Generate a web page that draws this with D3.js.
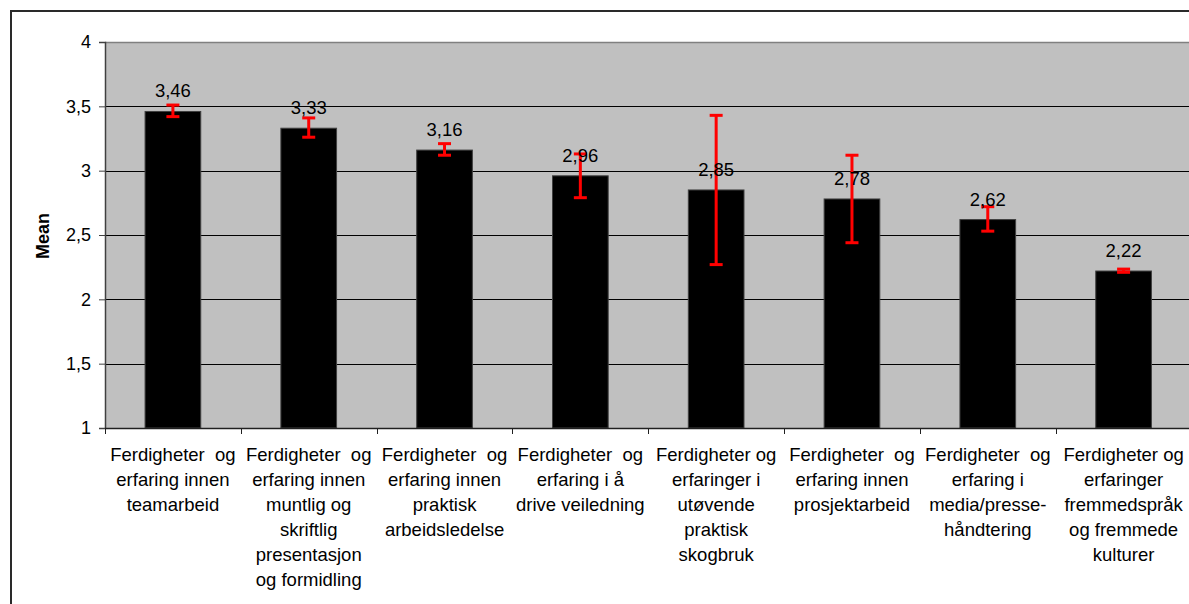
<!DOCTYPE html>
<html>
<head>
<meta charset="utf-8">
<script src="https://cdn.jsdelivr.net/npm/d3@7"></script>
<style>
  html, body { margin: 0; padding: 0; background: #fff; }
  svg { display: block; font-family: "Liberation Sans", Arial, sans-serif; }
  text { white-space: pre; }
</style>
</head>
<body>
<svg id="chart" width="1189" height="604"></svg>
<script>
// ---- data ----
const categories = [
  "Ferdigheter  og\nerfaring innen\nteamarbeid",
  "Ferdigheter  og\nerfaring innen\nmuntlig og\nskriftlig\npresentasjon\nog formidling",
  "Ferdigheter  og\nerfaring innen\npraktisk\narbeidsledelse",
  "Ferdigheter  og\nerfaring i å\ndrive veiledning",
  "Ferdigheter og\nerfaringer i\nutøvende\npraktisk\nskogbruk",
  "Ferdigheter  og\nerfaring innen\nprosjektarbeid",
  "Ferdigheter  og\nerfaring i\nmedia/presse-\nhåndtering",
  "Ferdigheter og\nerfaringer\nfremmedspråk\nog fremmede\nkulturer"
];
const meanValues = [3.46, 3.33, 3.16, 2.96, 2.85, 2.78, 2.62, 2.22];
const valueLabels = ["3,46", "3,33", "3,16", "2,96", "2,85", "2,78", "2,62", "2,22"];
const errLow  = [3.42, 3.26, 3.12, 2.79, 2.27, 2.44, 2.53, 2.21];
const errHigh = [3.51, 3.41, 3.21, 3.13, 3.43, 3.12, 2.72, 2.235];
const yTicks = [1, 1.5, 2, 2.5, 3, 3.5, 4];
const yTickLabels = ["1", "1,5", "2", "2,5", "3", "3,5", "4"];
const yTitle = "Mean";

// ---- layout ----
const svg = d3.select("#chart");
const plotLeft = 105, plotTop = 42, plotBottom = 428, plotRight = 1191.5;

// outer border
svg.append("rect")
  .attr("x", 11).attr("y", 11).attr("width", 1200).attr("height", 620)
  .attr("fill", "#fff").attr("stroke", "#2a2a2a").attr("stroke-width", 2);

const x = d3.scaleBand().domain(categories).range([plotLeft, plotRight]).padding(0);
const y = d3.scaleLinear().domain([1, 4]).range([plotBottom, plotTop]);

// plot background
svg.append("rect")
  .attr("x", plotLeft).attr("y", plotTop)
  .attr("width", plotRight - plotLeft).attr("height", plotBottom - plotTop)
  .attr("fill", "#c0c0c0");

// gridlines
svg.append("g").selectAll("line")
  .data(yTicks.filter(t => t > 1 && t < 4))
  .join("line")
  .attr("x1", plotLeft).attr("x2", plotRight)
  .attr("y1", d => Math.round(y(d)) + 0.5).attr("y2", d => Math.round(y(d)) + 0.5)
  .attr("stroke", "#000").attr("stroke-width", 1);

// top border of plot
svg.append("line")
  .attr("x1", plotLeft).attr("x2", plotRight)
  .attr("y1", plotTop + 0.5).attr("y2", plotTop + 0.5)
  .attr("stroke", "#808080").attr("stroke-width", 1.5);

// bars
const barW = x.bandwidth() * 0.41;
svg.append("g").selectAll("rect")
  .data(categories)
  .join("rect")
  .attr("x", (d) => x(d) + x.bandwidth() / 2 - barW / 2)
  .attr("y", (d, i) => y(meanValues[i]))
  .attr("width", barW)
  .attr("height", (d, i) => y(1) - y(meanValues[i]))
  .attr("fill", "#000").attr("stroke", "#404040").attr("stroke-width", 1);

// y axis
const yAxis = d3.axisLeft(y)
  .tickValues(yTicks)
  .tickFormat((d, i) => yTickLabels[i])
  .tickSize(6).tickPadding(8);
const gy = svg.append("g").attr("transform", `translate(${plotLeft},0)`).call(yAxis);
gy.select(".domain").attr("stroke", "#404040").attr("stroke-width", 1.5);
gy.selectAll(".tick line").attr("stroke", "#404040");
gy.selectAll(".tick text")
  .attr("font-size", 18).attr("fill", "#000")
  .attr("font-family", "Liberation Sans, Arial, sans-serif")
  .attr("dy", "0.32em");

// x axis
const gx = svg.append("g").attr("transform", `translate(0,${plotBottom})`);
gx.append("line")
  .attr("x1", plotLeft).attr("x2", plotRight)
  .attr("y1", 0.5).attr("y2", 0.5)
  .attr("stroke", "#202020").attr("stroke-width", 1.5);
const xTicksPos = categories.map(c => x(c)).concat([plotRight]);
gx.selectAll("line.tk")
  .data(xTicksPos)
  .join("line").attr("class", "tk")
  .attr("x1", d => Math.round(d) + 0.5).attr("x2", d => Math.round(d) + 0.5)
  .attr("y1", 0).attr("y2", 6)
  .attr("stroke", "#202020").attr("stroke-width", 1);

// category labels
const catG = svg.append("g");
categories.forEach((c, i) => {
  const t = catG.append("text")
    .attr("x", x(c) + x.bandwidth() / 2)
    .attr("y", 461)
    .attr("text-anchor", "middle")
    .attr("font-size", 18.5)
    .attr("fill", "#000");
  c.split("\n").forEach((line, j) => {
    t.append("tspan")
      .attr("x", x(c) + x.bandwidth() / 2)
      .attr("dy", j === 0 ? 0 : 25)
      .text(line);
  });
});

// error bars
const capW = 13;
const eg = svg.append("g").attr("stroke", "#ff0000").attr("stroke-width", 3);
categories.forEach((c, i) => {
  const cx = x(c) + x.bandwidth() / 2;
  eg.append("line").attr("x1", cx).attr("x2", cx)
    .attr("y1", y(errLow[i])).attr("y2", y(errHigh[i]));
  eg.append("line").attr("x1", cx - capW / 2).attr("x2", cx + capW / 2)
    .attr("y1", y(errLow[i])).attr("y2", y(errLow[i]));
  eg.append("line").attr("x1", cx - capW / 2).attr("x2", cx + capW / 2)
    .attr("y1", y(errHigh[i])).attr("y2", y(errHigh[i]));
});

// value labels
svg.append("g").selectAll("text")
  .data(categories)
  .join("text")
  .attr("x", d => x(d) + x.bandwidth() / 2)
  .attr("y", (d, i) => y(meanValues[i]) - 14)
  .attr("text-anchor", "middle")
  .attr("font-size", 18.5)
  .attr("fill", "#000")
  .text((d, i) => valueLabels[i]);

// y title
svg.append("text")
  .attr("transform", "translate(49,236) rotate(-90)")
  .attr("text-anchor", "middle")
  .attr("font-size", 18)
  .attr("font-weight", "bold")
  .attr("fill", "#000")
  .text(yTitle);
</script>
</body>
</html>
